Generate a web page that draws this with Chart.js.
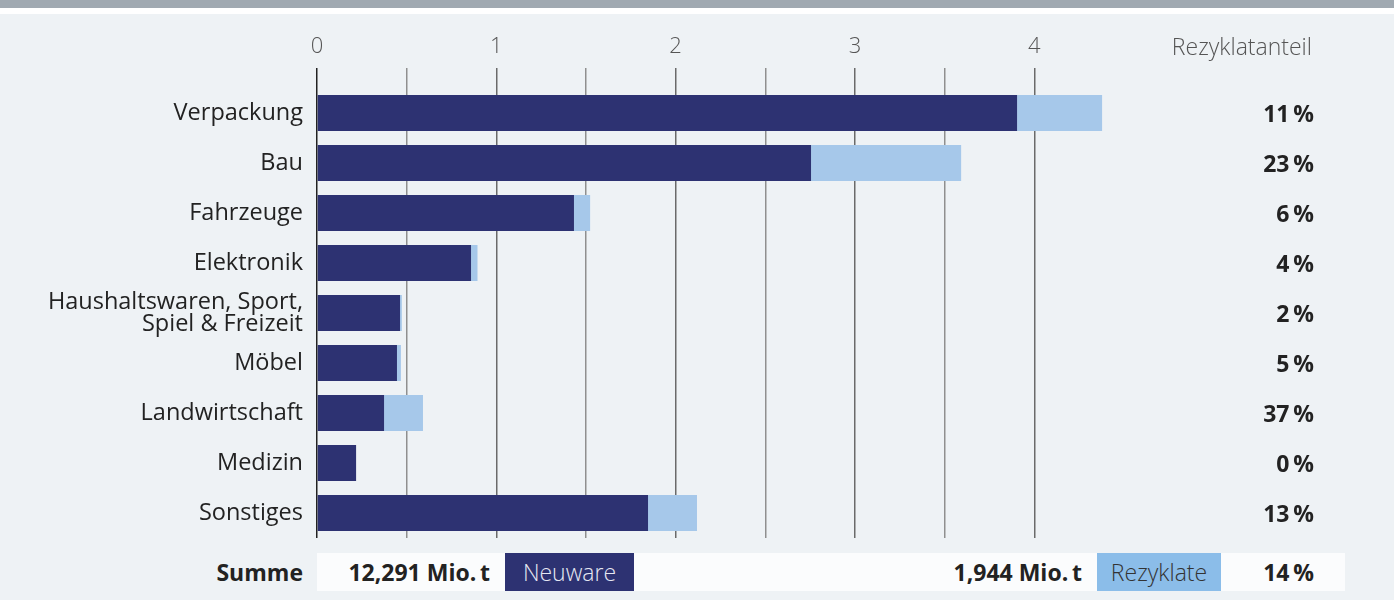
<!DOCTYPE html>
<html>
<head>
<meta charset="utf-8">
<script src="https://cdn.jsdelivr.net/npm/chart.js@4.4.1/dist/chart.umd.min.js"></script>
<style>
  html, body { margin: 0; padding: 0; }
  body { width: 1394px; height: 600px; background: #eef2f5; position: relative; overflow: hidden;
         font-family: "Open Sans", sans-serif; }
  #band { position: absolute; left: 0; top: 0; width: 1394px; height: 8px; background: #a0a9b1; }
  #gap { position: absolute; left: 0; top: 8px; width: 1394px; height: 6px; background: #ffffff; }
  #chartBox { position: absolute; left: 0; top: 0; width: 1394px; height: 600px; }
  .row { position: absolute; top: 553px; height: 38px; line-height: 38px; font-size: 23px; }
  .b { font-weight: 700; color: #222; }
  .leg { font-weight: 300; }
</style>
</head>
<body>
<div id="band"></div>
<div id="gap"></div>
<div class="row" style="left:317px; width:1028px; background:#fbfcfd;"></div>
<div class="row b" style="left:150px; width:153px; text-align:right;">Summe</div>
<div class="row b" id="sumNew" style="left:317px; width:173px; text-align:right;"></div>
<div class="row leg" id="legNew" style="left:505px; width:129px; background:#2d3272; color:#e6e8f2; text-align:center;"></div>
<div class="row b" id="sumRec" style="left:800px; width:282px; text-align:right;"></div>
<div class="row leg" id="legRec" style="left:1097px; width:124px; background:#8bbde9; color:#333; text-align:center;"></div>
<div class="row b" id="sumShare" style="left:1221px; width:93px; text-align:right;"></div>
<div id="chartBox"><canvas id="chart" width="1394" height="600"></canvas></div>
<script>
  const categories = ['Verpackung', 'Bau', 'Fahrzeuge', 'Elektronik',
    ['Haushaltswaren, Sport,', 'Spiel & Freizeit'], 'Möbel', 'Landwirtschaft', 'Medizin', 'Sonstiges'];
  const neuware = [3.904, 2.755, 1.433, 0.859, 0.463, 0.446, 0.374, 0.218, 1.846];   // Mio. t
  const rezyklate = [0.474, 0.837, 0.090, 0.036, 0.010, 0.022, 0.217, 0.000, 0.273]; // Mio. t
  const shareLabels = ['11\u2009%', '23\u2009%', '6\u2009%', '4\u2009%', '2\u2009%', '5\u2009%', '37\u2009%', '0\u2009%', '13\u2009%'];
  const seriesNames = ['Neuware', 'Rezyklate'];
  const totals = ['12,291 Mio.\u2009t', '1,944 Mio.\u2009t', '14\u2009%'];
  const shareTitle = 'Rezyklatanteil';

  document.getElementById('sumNew').textContent = totals[0];
  document.getElementById('sumRec').textContent = totals[1];
  document.getElementById('sumShare').textContent = totals[2];
  document.getElementById('legNew').textContent = seriesNames[0];
  document.getElementById('legRec').textContent = seriesNames[1];

  // Rezyklatanteil column on the right
  const shareColumn = {
    id: 'shareColumn',
    afterDraw(chart) {
      const c = chart.ctx;
      const y = chart.scales.y;
      c.save();
      c.textAlign = 'right';
      c.textBaseline = 'middle';
      c.fillStyle = '#555';
      c.font = '300 23px "Open Sans"';
      c.fillText(shareTitle, 1312, 48);
      c.fillStyle = '#222';
      c.font = 'bold 23px "Open Sans"';
      shareLabels.forEach((s, i) => c.fillText(s, 1314, y.getPixelForValue(i) + 2));
      c.restore();
    }
  };

  new Chart(document.getElementById('chart'), {
    type: 'bar',
    data: {
      labels: categories,
      datasets: [
        { label: seriesNames[0], data: neuware, backgroundColor: '#2d3272', barPercentage: 0.72, categoryPercentage: 1 },
        { label: seriesNames[1], data: rezyklate, backgroundColor: '#a6c8ea', barPercentage: 0.72, categoryPercentage: 1 }
      ]
    },
    options: {
      indexAxis: 'y',
      responsive: false,
      animation: false,
      layout: { padding: { left: 0, right: 279, top: 0, bottom: 62 } },
      plugins: { legend: { display: false }, tooltip: { enabled: false } },
      scales: {
        x: {
          position: 'top',
          stacked: true,
          min: 0,
          max: 4.45,
          afterBuildTicks(scale) {
            scale.ticks = [0, 0.5, 1, 1.5, 2, 2.5, 3, 3.5, 4].map(v => ({ value: v }));
          },
          afterFit(scale) { scale.height = 88; },
          border: { display: false },
          grid: {
            tickLength: 20,
            lineWidth: 1.5,
            color: ctx => ctx.tick.value === 0 ? '#222' : (Number.isInteger(ctx.tick.value) ? '#6a6a6a' : '#8f8f8f')
          },
          ticks: {
            padding: 8,
            color: '#555',
            font: { family: 'Open Sans', size: 22, weight: 300 },
            callback: v => Number.isInteger(v) ? String(v) : ''
          }
        },
        y: {
          stacked: true,
          afterFit(scale) { scale.width = 317; },
          border: { display: false },
          grid: { display: false },
          ticks: {
            padding: 6,
            color: '#222',
            font: { family: 'Open Sans', size: 23.5, lineHeight: 0.93 }
          }
        }
      }
    },
    plugins: [shareColumn]
  });
</script>
</body>
</html>
